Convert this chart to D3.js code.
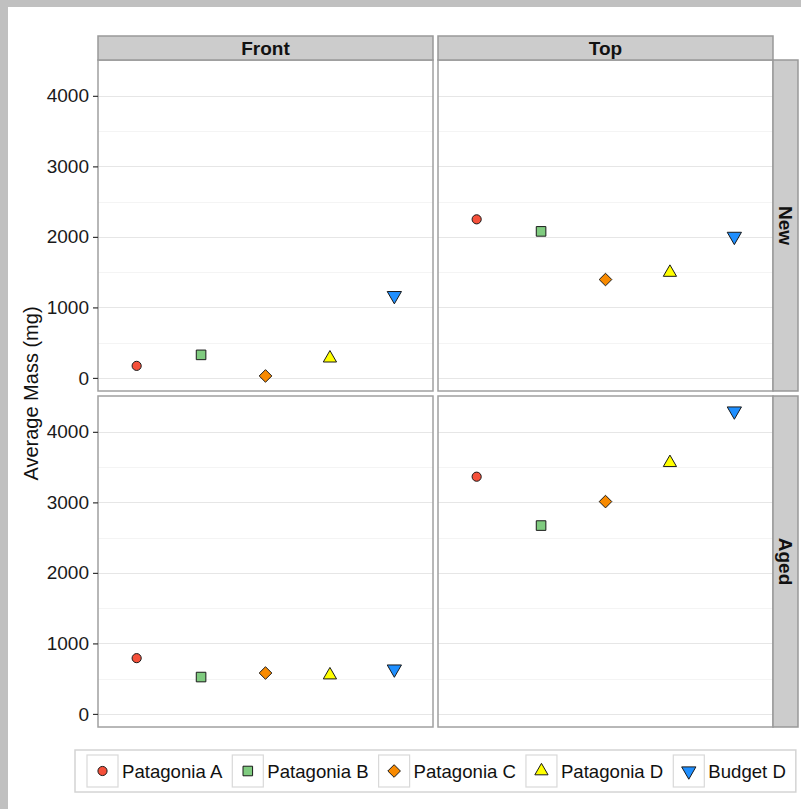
<!DOCTYPE html>
<html>
<head>
<meta charset="utf-8">
<script src="https://cdn.jsdelivr.net/npm/d3@7"></script>
<style>
  body { margin: 0; background: #fff; }
  text { font-family: "Liberation Sans", Arial, sans-serif; }
</style>
</head>
<body>
<div id="chart"></div>
<script>
// categories and facets
var brands = ["Patagonia A", "Patagonia B", "Patagonia C", "Patagonia D", "Budget D"];
var positions = ["Front", "Top"];
var conditions = ["New", "Aged"];

// average mass (mg) per brand, one array per panel
var frontNew = [171, 327, 28, 280, 1167];
var topNew = [2249, 2078, 1395, 1495, 2007];
var frontAged = [791, 523, 580, 551, 636];
var topAged = [3364, 2671, 3011, 3562, 4295];

var yTicks = [0, 1000, 2000, 3000, 4000];
var yMinor = [500, 1500, 2500, 3500];

var colors = ["#f5503a", "#7fcb7f", "#f88a00", "#ffff00", "#1f8fff"];
var shapes = ["circle", "square", "diamond", "up", "down"];

var W = 801, H = 809;
var panel = {left: [98, 438], top: [60, 396], w: 335, h: 331};

var svg = d3.select("#chart").append("svg")
    .attr("width", W)
    .attr("height", H);

// grey frame on the left and top
svg.append("rect").attr("width", W).attr("height", H).attr("fill", "#c0c0c0");
svg.append("rect").attr("x", 8).attr("y", 7).attr("width", W - 8).attr("height", H - 7).attr("fill", "#fff");

// build long table from panel arrays
var panels = [
    {pos: "Front", cond: "New", values: frontNew},
    {pos: "Top", cond: "New", values: topNew},
    {pos: "Front", cond: "Aged", values: frontAged},
    {pos: "Top", cond: "Aged", values: topAged}
];
var all = [];
panels.forEach(function (p) {
    p.values.forEach(function (v, i) {
        all.push({pos: p.pos, cond: p.cond, brand: brands[i], value: v, i: i});
    });
});

var x = d3.scalePoint()
    .domain(brands)
    .range([0, panel.w])
    .padding(0.6);

// ggplot-like 5% expansion
var ext = d3.extent(all, function (d) { return d.value; });
var pad = (ext[1] - ext[0]) * 0.05;
var y = d3.scaleLinear()
    .domain([ext[0] - pad, ext[1] + pad])
    .range([panel.h, 0]);

function shapePath(s) {
    if (s == "circle") return d3.symbol().type(d3.symbolCircle).size(66)();
    if (s == "square") return d3.symbol().type(d3.symbolSquare).size(92)();
    if (s == "diamond") return "M0,-6.3L6.3,0L0,6.3L-6.3,0Z";
    return d3.symbol().type(d3.symbolTriangle).size(s == "up" ? 76 : 88)();
}

panels.forEach(function (p) {
    var col = positions.indexOf(p.pos), row = conditions.indexOf(p.cond);
    var g = svg.append("g")
        .attr("transform", "translate(" + panel.left[col] + "," + panel.top[row] + ")");

    g.append("rect")
        .attr("width", panel.w).attr("height", panel.h)
        .attr("fill", "#fff");

    // minor then major grid
    g.selectAll(".minor").data(yMinor).enter().append("line")
        .attr("x1", 0).attr("x2", panel.w)
        .attr("y1", function (d) { return Math.round(y(d)) + 0.5; })
        .attr("y2", function (d) { return Math.round(y(d)) + 0.5; })
        .attr("stroke", "#f4f4f4");
    g.selectAll(".major").data(yTicks).enter().append("line")
        .attr("x1", 0).attr("x2", panel.w)
        .attr("y1", function (d) { return Math.round(y(d)) + 0.5; })
        .attr("y2", function (d) { return Math.round(y(d)) + 0.5; })
        .attr("stroke", "#e6e6e6");

    g.selectAll(".pt")
        .data(all.filter(function (d) { return d.pos == p.pos && d.cond == p.cond; }))
        .enter().append("path")
        .attr("d", function (d) { return shapePath(shapes[d.i]); })
        .attr("transform", function (d) {
            return "translate(" + x(d.brand) + "," + y(d.value) + ")" + (shapes[d.i] == "down" ? " rotate(180)" : "");
        })
        .attr("fill", function (d) { return colors[d.i]; })
        .attr("stroke", "#1a1a1a")
        .attr("stroke-width", 1);

    g.append("rect")
        .attr("width", panel.w).attr("height", panel.h)
        .attr("fill", "none")
        .attr("stroke", "#a0a0a0")
        .attr("stroke-width", 1.5);

    // y axis on the left column only
    if (col == 0) {
        var ax = g.append("g")
            .call(d3.axisLeft(y).tickValues(yTicks).tickSize(5).tickPadding(4).tickFormat(d3.format("d")));
        ax.select(".domain").remove();
        ax.selectAll(".tick line").attr("stroke", "#333").attr("stroke-width", 1.2);
        ax.selectAll(".tick text")
            .attr("font-size", 19)
            .attr("font-family", "'Liberation Sans', Arial, sans-serif")
            .attr("fill", "#1a1a1a");
    }
});

// top strips
positions.forEach(function (p, col) {
    svg.append("rect")
        .attr("x", panel.left[col]).attr("y", 36)
        .attr("width", panel.w).attr("height", 24)
        .attr("fill", "#cccccc").attr("stroke", "#999").attr("stroke-width", 1.5);
    svg.append("text")
        .attr("x", panel.left[col] + panel.w / 2).attr("y", 48)
        .attr("dy", "0.36em")
        .attr("text-anchor", "middle")
        .attr("font-size", 19).attr("font-weight", "bold")
        .attr("fill", "#111")
        .text(p);
});

// right strips
conditions.forEach(function (c, row) {
    var sx = panel.left[1] + panel.w;
    svg.append("rect")
        .attr("x", sx).attr("y", panel.top[row])
        .attr("width", 25).attr("height", panel.h)
        .attr("fill", "#cccccc").attr("stroke", "#999").attr("stroke-width", 1.5);
    svg.append("text")
        .attr("transform", "translate(" + (sx + 12.5) + "," + (panel.top[row] + panel.h / 2) + ") rotate(90)")
        .attr("dy", "0.36em")
        .attr("text-anchor", "middle")
        .attr("font-size", 19).attr("font-weight", "bold")
        .attr("fill", "#111")
        .text(c);
});

// y axis title
svg.append("text")
    .attr("transform", "translate(31," + ((panel.top[0] + panel.top[1] + panel.h) / 2) + ") rotate(-90)")
    .attr("dy", "0.36em")
    .attr("text-anchor", "middle")
    .attr("font-size", 20)
    .attr("fill", "#111")
    .text("Average Mass (mg)");

// legend
var legend = svg.append("g");
var lbox = legend.append("rect")
    .attr("x", 75).attr("y", 750).attr("height", 42)
    .attr("fill", "#fff").attr("stroke", "#d4d4d4").attr("stroke-width", 1.5);
var kx = 87;
brands.forEach(function (b, i) {
    legend.append("rect")
        .attr("x", kx).attr("y", 755).attr("width", 31).attr("height", 32)
        .attr("fill", "#fff").attr("stroke", "#d9d9d9").attr("stroke-width", 1.2);
    legend.append("path")
        .attr("d", shapePath(shapes[i]))
        .attr("transform", "translate(" + (kx + 15.5) + ",771)" + (shapes[i] == "down" ? " rotate(180)" : ""))
        .attr("fill", colors[i])
        .attr("stroke", "#1a1a1a");
    var t = legend.append("text")
        .attr("x", kx + 35).attr("y", 771)
        .attr("dy", "0.36em")
        .attr("font-size", 18.6)
        .attr("fill", "#111")
        .text(b);
    kx = kx + 35 + t.node().getComputedTextLength() + 10;
});
lbox.attr("width", Math.min(kx, 797) - 75);
</script>
</body>
</html>
